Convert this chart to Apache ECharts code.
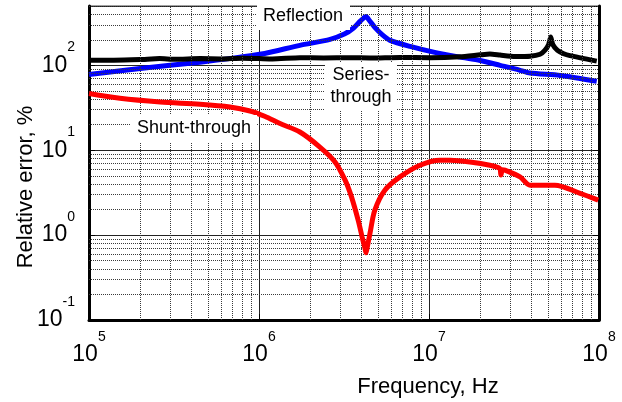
<!DOCTYPE html>
<html>
<head>
<meta charset="utf-8">
<script src="https://cdn.jsdelivr.net/npm/echarts@6/dist/echarts.min.js"></script>
<style>
  html, body { margin: 0; padding: 0; background: #fff; }
  #chart { width: 622px; height: 402px; }
</style>
</head>
<body>
<div id="chart"></div>
<script>
// values (frequency in Hz, error in %)
var freqSeries = [1e5, 1.4e5, 2.0e5, 2.6e5, 3.2e5, 4.5e5, 6e5, 8e5, 1e6, 1.2e6, 1.74e6, 2.4e6, 3.43e6, 4.5e6, 6.75e6, 1.01e7, 1.52e7, 2.0e7, 2.28e7, 2.62e7, 3.2e7, 3.93e7, 4.5e7, 4.8e7, 5.05e7, 5.2e7, 5.35e7, 5.7e7, 6.2e7, 6.75e7, 9.7e7];
var errSeries = [115, 115, 117, 120, 118, 120, 119, 121, 120, 119, 123, 122, 123, 122, 124, 123, 126, 133, 136, 132, 127, 128, 135, 150, 175, 215, 175, 150, 137, 130, 112];

var freqRefl = [1e5, 2e5, 4.5e5, 7.7e5, 1.08e6, 1.74e6, 2.62e6, 3.2e6, 3.6e6, 3.9e6, 4.15e6, 4.26e6, 4.45e6, 4.8e6, 5.3e6, 5.9e6, 7.75e6, 1.08e7, 1.52e7, 2.0e7, 2.62e7, 3.4e7, 3.93e7, 5.9e7, 9.7e7];
var errRefl = [78, 92, 109, 125, 138, 172, 202, 235, 275, 325, 365, 377, 340, 280, 230, 197, 167, 142, 125, 114, 100, 88, 81, 76, 65];

var freqShunt = [1e5, 1.52e5, 2.62e5, 4.5e5, 6.75e5, 8.85e5, 1.08e6, 1.33e6, 1.74e6, 2.28e6, 2.8e6, 3.21e6, 3.5e6, 3.83e6, 4.04e6, 4.2e6, 4.26e6, 4.32e6, 4.5e6, 4.8e6, 5.5e6, 6.75e6, 8.85e6, 1.16e7, 1.33e7, 1.74e7, 2.28e7, 2.6e7, 2.65e7, 2.7e7, 2.8e7, 3.43e7, 3.93e7, 5.5e7, 7.75e7, 9.9e7];
var errShunt = [46.5, 40.9, 37, 34.8, 32.3, 29, 25.1, 20.6, 16.4, 10.9, 7.28, 4.44, 2.82, 1.5, 0.955, 0.7, 0.62, 0.7, 1.06, 1.97, 3.38, 4.85, 6.66, 7.62, 7.62, 7.28, 6.66, 6.1, 5.1, 5.9, 5.82, 4.85, 3.87, 3.87, 3.1, 2.58];

// minor grid positions inside each decade
var minorMult = [2, 3, 4, 5, 6, 7, 8, 9];
var xDecades = [1e5, 1e6, 1e7];
var yDecades = [0.1, 1, 10, 100];

function pairs(xs, ys) {
    var out = [];
    for (var i = 0; i < xs.length; i++) out.push([xs[i], ys[i]]);
    return out;
}

var minorLines = [];
xDecades.forEach(function (d) {
    minorMult.forEach(function (m) { minorLines.push({ xAxis: d * m }); });
});
yDecades.forEach(function (d) {
    minorMult.forEach(function (m) {
        if (d * m <= 500) minorLines.push({ yAxis: d * m });
    });
});

function powLabel(v) {
    var e = Math.round(Math.log10(v));
    return '{b|10}{s|' + e + '}';
}
var richPow = {
    b: { fontSize: 23, lineHeight: 50, color: '#000', fontFamily: 'Liberation Sans, Arial' },
    s: { fontSize: 14, lineHeight: 14, verticalAlign: 'top', color: '#000', fontFamily: 'Liberation Sans, Arial' }
};

var chart = echarts.init(document.getElementById('chart'));
var option = {
    animation: false,
    backgroundColor: '#fff',
    textStyle: { fontFamily: 'Liberation Sans, Arial' },
    grid: {
        left: 89, right: 23, top: 6, bottom: 82,
        show: true, borderColor: '#444', borderWidth: 1
    },
    xAxis: {
        type: 'log', logBase: 10, min: 1e5, max: 1e8, splitNumber: 3,
        axisLine: { lineStyle: { color: '#000', width: 3 } },
        axisTick: { inside: true, length: 6, lineStyle: { color: '#000', width: 1 } },
        axisLabel: { margin: 10, formatter: powLabel, rich: richPow },
        splitLine: { show: true, lineStyle: { color: '#222', width: 1 } }
    },
    yAxis: [{
        type: 'log', logBase: 10, min: 0.1, max: 500, splitNumber: 4,
        axisLine: { lineStyle: { color: '#000', width: 3 } },
        axisTick: { inside: true, length: 6, lineStyle: { color: '#000', width: 1 } },
        axisLabel: { margin: 14, showMaxLabel: false, formatter: powLabel, rich: richPow },
        splitLine: { show: true, lineStyle: { color: '#222', width: 1 } }
    }, {
        type: 'log', logBase: 10, min: 0.1, max: 500, position: 'right',
        axisLine: { show: true, lineStyle: { color: '#000', width: 3 } },
        axisTick: { inside: true, length: 6, lineStyle: { color: '#000' } },
        axisLabel: { show: false },
        splitLine: { show: false }
    }],
    series: [
        {
            type: 'line', data: [], silent: true, z: 1,
            markLine: {
                silent: true, symbol: 'none', animation: false,
                label: { show: false },
                lineStyle: { color: '#3a3a3a', width: 1, type: 'dotted' },
                data: minorLines
            }
        },
        {
            name: 'Reflection', type: 'line', data: pairs(freqRefl, errRefl),
            showSymbol: false, smooth: 0.25, z: 3,
            lineStyle: { color: '#0000ff', width: 5 }
        },
        {
            name: 'Series-through', type: 'line', data: pairs(freqSeries, errSeries),
            showSymbol: false, smooth: 0.2, z: 4,
            lineStyle: { color: '#000', width: 5 }
        },
        {
            name: 'Shunt-through', type: 'line', data: pairs(freqShunt, errShunt),
            showSymbol: false, smooth: 0.3, z: 5,
            lineStyle: { color: '#ff0000', width: 5 }
        }
    ],
    graphic: [
        { type: 'rect', shape: { x: 257, y: 1, width: 93, height: 29 }, style: { fill: '#fff' }, z: 10 },
        { type: 'text', x: 303, y: 16, z: 11, style: { text: 'Reflection', font: '18px Liberation Sans, Arial', fill: '#000', align: 'center', verticalAlign: 'middle' } },
        { type: 'rect', shape: { x: 325, y: 63, width: 72, height: 47 }, style: { fill: '#fff' }, z: 10 },
        { type: 'text', x: 361, y: 86, z: 11, style: { text: 'Series-\nthrough', font: '18px Liberation Sans, Arial', lineHeight: 22, fill: '#000', align: 'center', verticalAlign: 'middle' } },
        { type: 'rect', shape: { x: 131, y: 115, width: 126, height: 27 }, style: { fill: '#fff' }, z: 10 },
        { type: 'text', x: 194, y: 128, z: 11, style: { text: 'Shunt-through', font: '18px Liberation Sans, Arial', fill: '#000', align: 'center', verticalAlign: 'middle' } },
        { type: 'text', x: 428, y: 387, z: 11, style: { text: 'Frequency, Hz', font: '22px Liberation Sans, Arial', fill: '#000', align: 'center', verticalAlign: 'middle' } },
        { type: 'text', x: 26, y: 187, rotation: Math.PI / 2, z: 11, style: { text: 'Relative error, %', font: '22px Liberation Sans, Arial', fill: '#000', align: 'center', verticalAlign: 'middle' } }
    ]
};
chart.setOption(option);
</script>
</body>
</html>
